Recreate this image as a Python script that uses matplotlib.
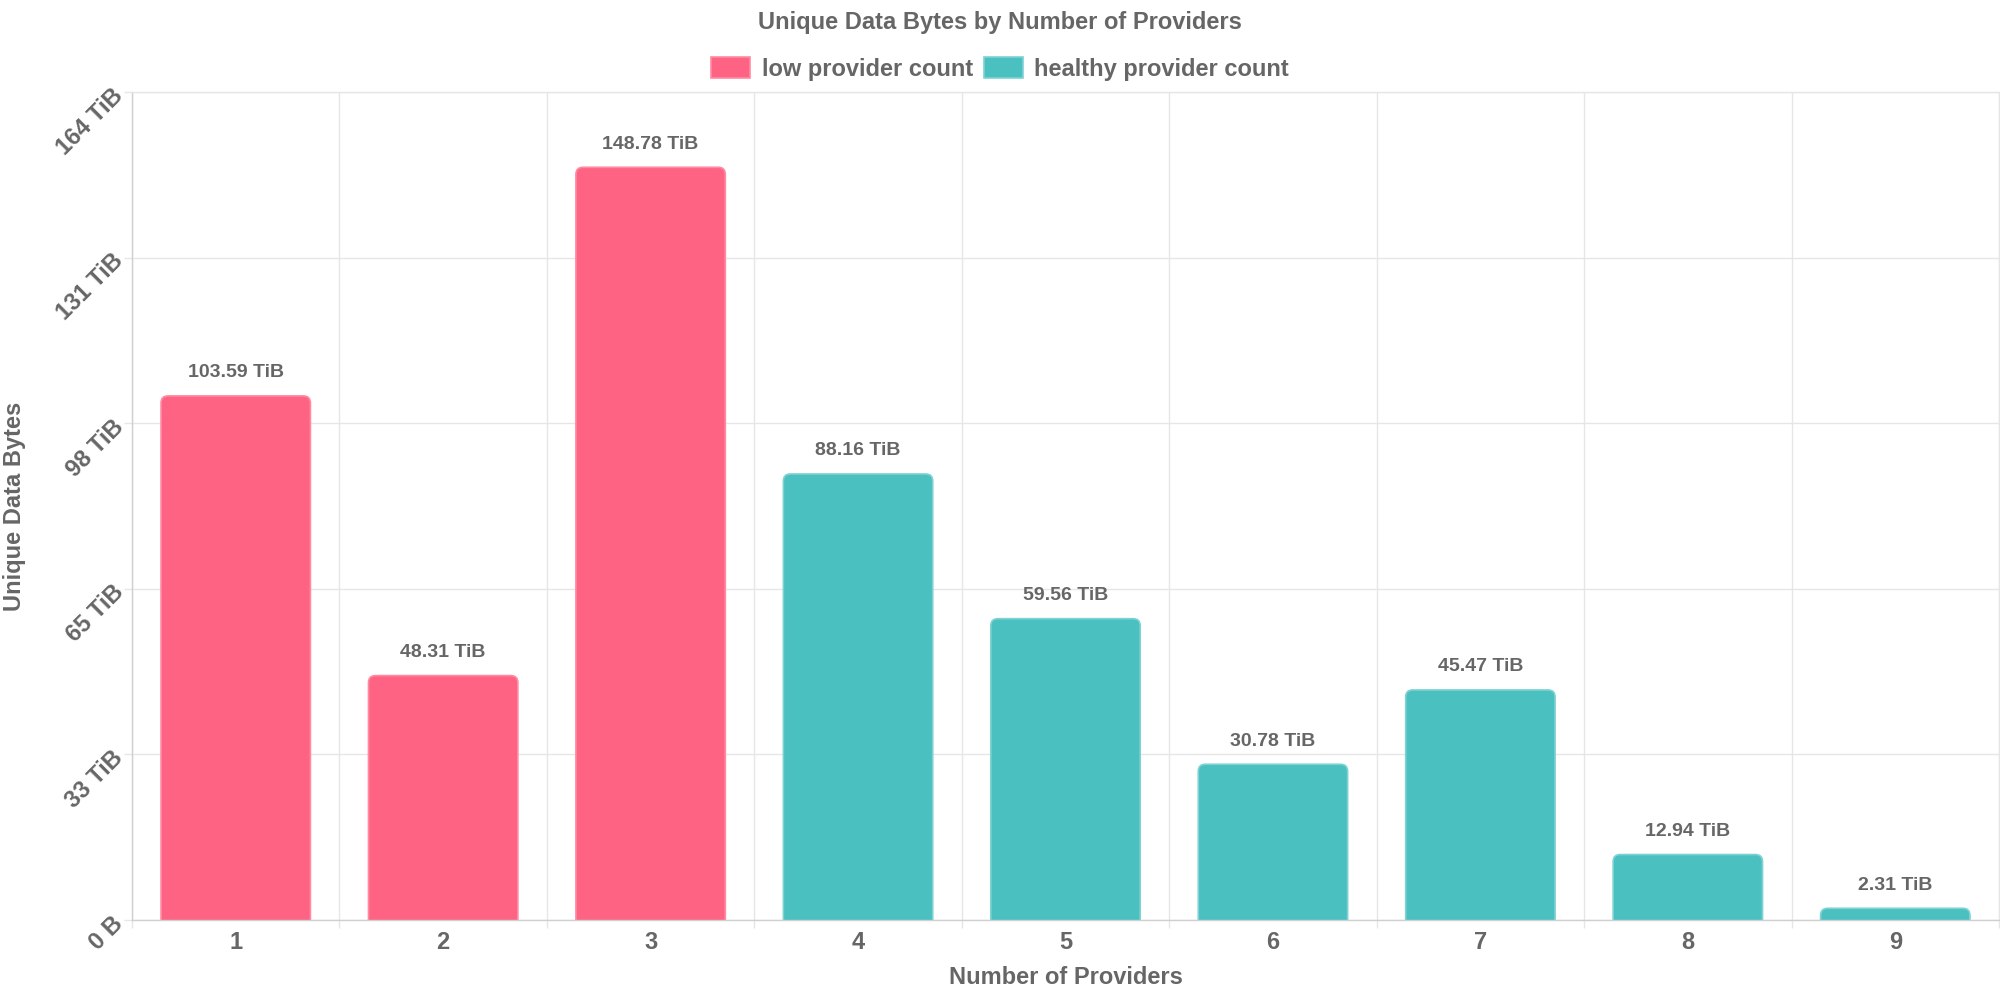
import numpy as np
import matplotlib.pyplot as plt
from matplotlib.patches import FancyBboxPatch, Patch

plt.rcParams['font.family'] = ['Liberation Sans', 'DejaVu Sans']
plt.rcParams['font.weight'] = 'bold'

providers = ['1', '2', '3', '4', '5', '6', '7', '8', '9']
unique_tib = [103.59, 48.31, 148.78, 88.16, 59.56, 30.78, 45.47, 12.94, 2.31]
group = ['low', 'low', 'low', 'healthy', 'healthy', 'healthy', 'healthy', 'healthy', 'healthy']
legend_labels = ['low provider count', 'healthy provider count']
y_max = 163.66

fill = {'low': '#ff6384', 'healthy': '#4bc0c0'}
edge = {'low': '#ff8aa2', 'healthy': '#7fd2d2'}
text_c = '#666666'
grid_c = '#e6e6e6'

W, H = 2000, 1000
fig = plt.figure(figsize=(W / 100, H / 100), dpi=100)
left, bottom, right, top = 132, 920, 1999, 92
ax = fig.add_axes([left / W, 1 - bottom / H, (right - left) / W, (bottom - top) / H])

x = np.arange(1, len(providers) + 1)
bars = ax.bar(x, unique_tib, width=0.72, color=[fill[g] for g in group])
ax.set_xlim(0.5, len(providers) + 0.5)
ax.set_ylim(0, y_max)

# rounded top corners: replace each bar with a rounded box that dips below 0 (clipped)
px_x = (right - left) / len(providers)
px_y = (bottom - top) / y_max
r_px = 7
rx = r_px / px_x
aspect = px_x / px_y
for b, g in zip(bars, group):
    x0, w, h = b.get_x(), b.get_width(), b.get_height()
    b.set_visible(False)
    ry = r_px / px_y
    p = FancyBboxPatch((x0, -3 * ry), w, h + 3 * ry,
                       boxstyle=f"round,pad=0,rounding_size={rx}",
                       mutation_aspect=aspect, fc=fill[g], ec=edge[g], lw=1.2, zorder=2)
    ax.add_patch(p)
    ax.annotate(f'{h:.2f} TiB', xy=(b.get_x() + w / 2, h), xytext=(0, 16.6),
                textcoords='offset points', ha='center', va='center',
                fontsize=14, color=text_c, fontweight='bold')

# axes, ticks, grid
ax.set_xticks(np.arange(0.5, len(providers) + 1, 1))
ax.set_xticklabels([])
ax.set_xticks(x, minor=True)
ax.set_xticklabels(providers, minor=True)
ax.tick_params(axis='x', which='major', length=5.8, color=grid_c, width=1)
ax.tick_params(axis='x', which='minor', length=0, pad=8, labelsize=17, labelcolor=text_c)

yt = np.linspace(0, y_max, 6)
ax.set_yticks(yt)
ax.set_yticklabels(['0 B' if v == 0 else f'{round(v)} TiB' for v in yt],
                   rotation=45, ha='right', va='center', rotation_mode='anchor')
ax.tick_params(axis='y', length=5.8, color=grid_c, width=1, pad=3, labelsize=17, labelcolor=text_c)

ax.grid(True, which='major', color=grid_c, lw=1, zorder=0)
ax.set_axisbelow(True)
for s in ['top', 'right']:
    ax.spines[s].set_color(grid_c)
for s in ['left', 'bottom']:
    ax.spines[s].set_color('#cfcfcf')
for s in ax.spines.values():
    s.set_linewidth(1)

fig.text(15 / W, 1 - 506 / H, 'Unique Data Bytes', rotation=90, ha='center', va='center',
         fontsize=17, color=text_c)
fig.text((left + right) / 2 / W, 1 - 978 / H, 'Number of Providers', ha='center', va='center',
         fontsize=17, color=text_c)
fig.text(0.5, 1 - 22 / H, 'Unique Data Bytes by Number of Providers', ha='center', va='center',
         fontsize=17, color=text_c)

handles = [Patch(fc=fill[g], ec=edge[g], lw=1.2) for g in ['low', 'healthy']]
fig.legend(handles, legend_labels, loc='center', bbox_to_anchor=(0.5, 1 - 69 / H), ncol=2,
           frameon=False, fontsize=17, handlelength=1.65, handleheight=1.0,
           handletextpad=0.5, columnspacing=0.45, labelcolor=text_c)

fig.savefig('out.png', dpi=100)
